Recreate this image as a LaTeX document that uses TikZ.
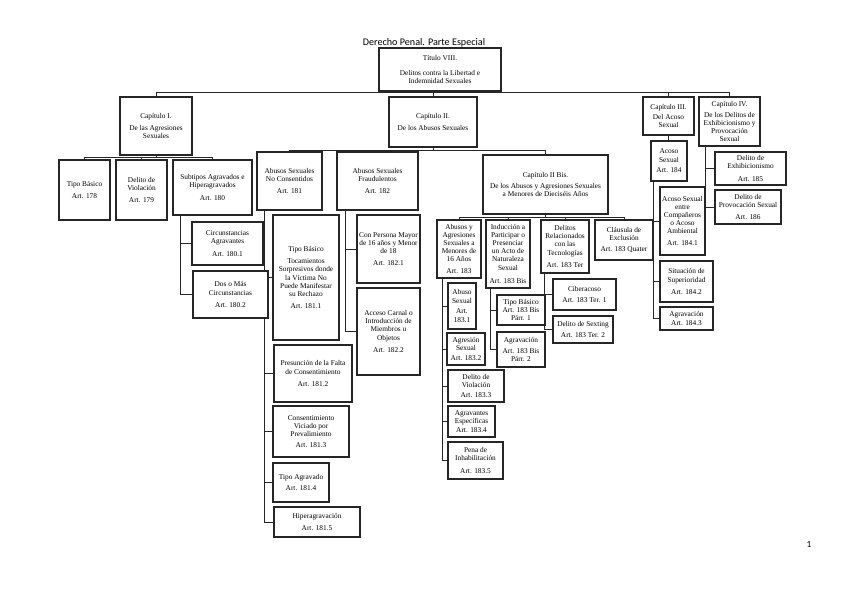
\documentclass[tikz,border=0pt]{standalone}
\usepackage{fontspec}
\setmainfont{Liberation Serif}
\newfontfamily\titlefont{Carlito}
\usetikzlibrary{backgrounds}
\tikzset{
  box/.style={draw=black!85, line width=1.1pt, fill=white, inner sep=0.5pt, align=center,
    font=\fontsize{5.5}{6.1}\selectfont},
  conn/.style={draw=black!85, line width=0.75pt},
}
\newcommand\bx[6]{\node[box, minimum width={(#4-#2)*0.75}, minimum height={(#5-#3)*0.75}] (#1) at ({(#2+#4)/2},{(#3+#5)/2}) {#6};}
\begin{document}
\begin{tikzpicture}[x=0.75pt,y=-0.75pt]
\useasboundingbox (0,0) rectangle (848,599);
\node[font=\titlefont\fontsize{7.6}{8}\selectfont, inner sep=0] (ttl) at (424,43) {Derecho Penal. Parte Especial};
\node[font=\titlefont\fontsize{7}{8}\selectfont, inner sep=0] (pg) at (809,544) {1};
% top
\bx{tit}{379}{48}{501}{91}{Título VIII.\\[4.5pt]Delitos contra la Libertad e\\Indemnidad Sexuales}
\bx{cap1}{120}{97}{192}{155}{Capítulo I.\\[3.4pt]De las Agresiones\\Sexuales}
\bx{cap2}{389}{97}{477}{147}{Capítulo II.\\[3pt]De los Abusos Sexuales}
\bx{cap3}{643}{97}{694}{135}{Capítulo III.\\[1.5pt]Del Acoso\\Sexual}
\bx{cap4}{699}{97}{760}{146}{Capítulo IV.\\[2pt]De los Delitos de\\Exhibicionismo y\\Provocación\\Sexual}
% cap I
\bx{tb178}{59}{160}{110}{220}{Tipo Básico\\[3.5pt]Art. 178}
\bx{dv179}{116}{160}{167}{220}{Delito de\\Violación\\[3.5pt]Art. 179}
\bx{sub180}{173}{160}{252}{215}{Subtipos Agravados e\\Hiperagravados\\[3.5pt]Art. 180}
\bx{c1801}{192}{222}{263}{265}{Circunstancias\\Agravantes\\[3pt]Art. 180.1}
\bx{c1802}{193}{271}{268}{318}{Dos o Más\\Circunstancias\\[3pt]Art. 180.2}
% cap II
\bx{asnc181}{257}{152}{322}{210}{Abusos Sexuales\\No Consentidos\\[3pt]Art. 181}
\bx{asf182}{337}{152}{418}{210}{Abusos Sexuales\\Fraudulentos\\[3pt]Art. 182}
\bx{cap2bis}{483}{155}{608}{214}{Capítulo II Bis.\\[2pt]De los Abusos y Agresiones Sexuales\\a Menores de Dieciséis Años}
\bx{a1811}{273}{215}{339}{340}{Tipo Básico\\[3pt]Tocamientos\\Sorpresivos donde\\la Víctima No\\Puede Manifestar\\su Rechazo\\[3pt]Art. 181.1}
\bx{a1812}{274}{345}{352}{402}{Presunción de la Falta\\de Consentimiento\\[3pt]Art. 181.2}
\bx{a1813}{273}{406}{349}{457}{Consentimiento\\Viciado por\\Prevalimiento\\[2.5pt]Art. 181.3}
\bx{a1814}{273}{463}{329}{502}{Tipo Agravado\\[2.5pt]Art. 181.4}
\bx{a1815}{274}{507}{360}{537}{Hiperagravación\\[2.5pt]Art. 181.5}
\bx{a1821}{357}{215}{420}{283}{Con Persona Mayor\\de 16 años y Menor\\de 18\\[3pt]Art. 182.1}
\bx{a1822}{357}{288}{420}{375}{Acceso Carnal o\\Introducción de\\Miembros u\\Objetos\\[3pt]Art. 182.2}
% cap II bis
\bx{a183}{437}{220}{481}{278}{Abusos y\\Agresiones\\Sexuales a\\Menores de\\16 Años\\[3pt]Art. 183}
\bx{a183bis}{486}{220}{530}{288}{Inducción a\\Participar o\\Presenciar\\un Acto de\\Naturaleza\\Sexual\\[4pt]Art. 183 Bis}
\bx{a183ter}{541}{220}{589}{273}{Delitos\\Relacionados\\con las\\Tecnologías\\[3pt]Art. 183 Ter}
\bx{a183q}{595}{220}{653}{260}{Cláusula de\\Exclusión\\[2.5pt]Art. 183 Quater}
\bx{a1831}{448}{283}{476}{329}{Abuso\\Sexual\\[2pt]Art.\\183.1}
\bx{a1832}{447}{333}{485}{365}{Agresión\\Sexual\\[1pt]Art. 183.2}
\bx{a1833}{448}{370}{504}{402}{Delito de\\Violación\\[2pt]Art. 183.3}
\bx{a1834}{448}{406}{495}{437}{Agravantes\\Específicas\\[1pt]Art. 183.4}
\bx{a1835}{448}{442}{503}{479}{Pena de\\Inhabilitación\\[3pt]Art. 183.5}
\bx{a183b1}{497}{295}{545}{325}{Tipo Básico\\Art. 183 Bis\\Párr. 1}
\bx{a183b2}{497}{332}{545}{367}{Agravación\\[2pt]Art. 183 Bis\\Párr. 2}
\bx{a183t1}{553}{279}{616}{310}{Ciberacoso\\[2.5pt]Art. 183 Ter. 1}
\bx{a183t2}{553}{316}{613}{343}{Delito de Sexting\\[2.5pt]Art. 183 Ter. 2}
% cap III
\bx{acoso184}{651}{141}{687}{181}{Acoso\\Sexual\\[2pt]Art. 184}
\bx{a1841}{660}{187}{705}{255}{Acoso Sexual\\entre\\Compañeros\\o Acoso\\Ambiental\\[3pt]Art. 184.1}
\bx{a1842}{660}{261}{713}{302}{Situación de\\Superioridad\\[3pt]Art. 184.2}
\bx{a1843}{660}{307}{713}{330}{Agravación\\Art. 184.3}
% cap IV
\bx{a185}{715}{152}{786}{185}{Delito de\\Exhibicionismo\\[3pt]Art. 185}
\bx{a186}{715}{190}{781}{224}{Delito de\\Provocación Sexual\\[3pt]Art. 186}
% bus coordinates
\coordinate (b0) at (0,93);
\coordinate (b1) at (0,157);
\coordinate (b2) at (0,150);
\coordinate (b3) at (0,217);
\begin{pgfonlayer}{background}
% top bus
\draw[conn] (cap1.north) -- (cap1.north |- b0) -- (cap4.north |- b0) -- (cap4.north);
\draw[conn] (tit.south) -- (tit.south |- b0);
\draw[conn] (cap2.north) -- (cap2.north |- b0);
\draw[conn] (cap3.north) -- (cap3.north |- b0);
% cap I bus
\draw[conn] (tb178.north) -- (tb178.north |- b1) -- (sub180.north |- b1) -- (sub180.north);
\draw[conn] (cap1.south) -- (cap1.south |- b1);
\draw[conn] (dv179.north) -- (dv179.north |- b1);
\draw[conn] ([xshift=6pt]sub180.south west) |- (c1801.west);
\draw[conn] ([xshift=6pt]sub180.south west) |- (c1802.west);
% cap II bus
\draw[conn] (asnc181.north) -- (asnc181.north |- b2) -- (cap2bis.north |- b2) -- (cap2bis.north);
\draw[conn] (cap2.south) -- (cap2.south |- b2);
\draw[conn] (asf182.north) -- (asf182.north |- b2);
\foreach \c in {a1811,a1812,a1813,a1814,a1815}
  \draw[conn] ([xshift=6pt]asnc181.south west) |- (\c.west);
\foreach \c in {a1821,a1822}
  \draw[conn] ([xshift=6.75pt]asf182.south west) |- (\c.west);
% cap II bis bus
\draw[conn] (a183.north) -- (a183.north |- b3) -- (a183q.north |- b3) -- (a183q.north);
\draw[conn] (cap2bis.south) -- (cap2bis.south |- b3);
\draw[conn] (a183bis.north) -- (a183bis.north |- b3);
\draw[conn] (a183ter.north) -- (a183ter.north |- b3);
\foreach \c in {a1831,a1832,a1833,a1834,a1835}
  \draw[conn] ([xshift=4.5pt]a183.south west) |- (\c.west);
\foreach \c in {a183b1,a183b2}
  \draw[conn] ([xshift=3.75pt]a183bis.south west) |- (\c.west);
\foreach \c in {a183t1,a183t2}
  \draw[conn] ([xshift=3pt]a183ter.south west) |- (\c.west);
% cap III
\draw[conn] (cap3.south) -- (cap3.south |- acoso184.north);
\foreach \c in {a1841,a1842,a1843}
  \draw[conn] ([xshift=2.25pt]acoso184.south west) |- (\c.west);
% cap IV
\foreach \c in {a185,a186}
  \draw[conn] ([xshift=5.25pt]cap4.south west) |- (\c.west);
\end{pgfonlayer}
\end{tikzpicture}
\end{document}
